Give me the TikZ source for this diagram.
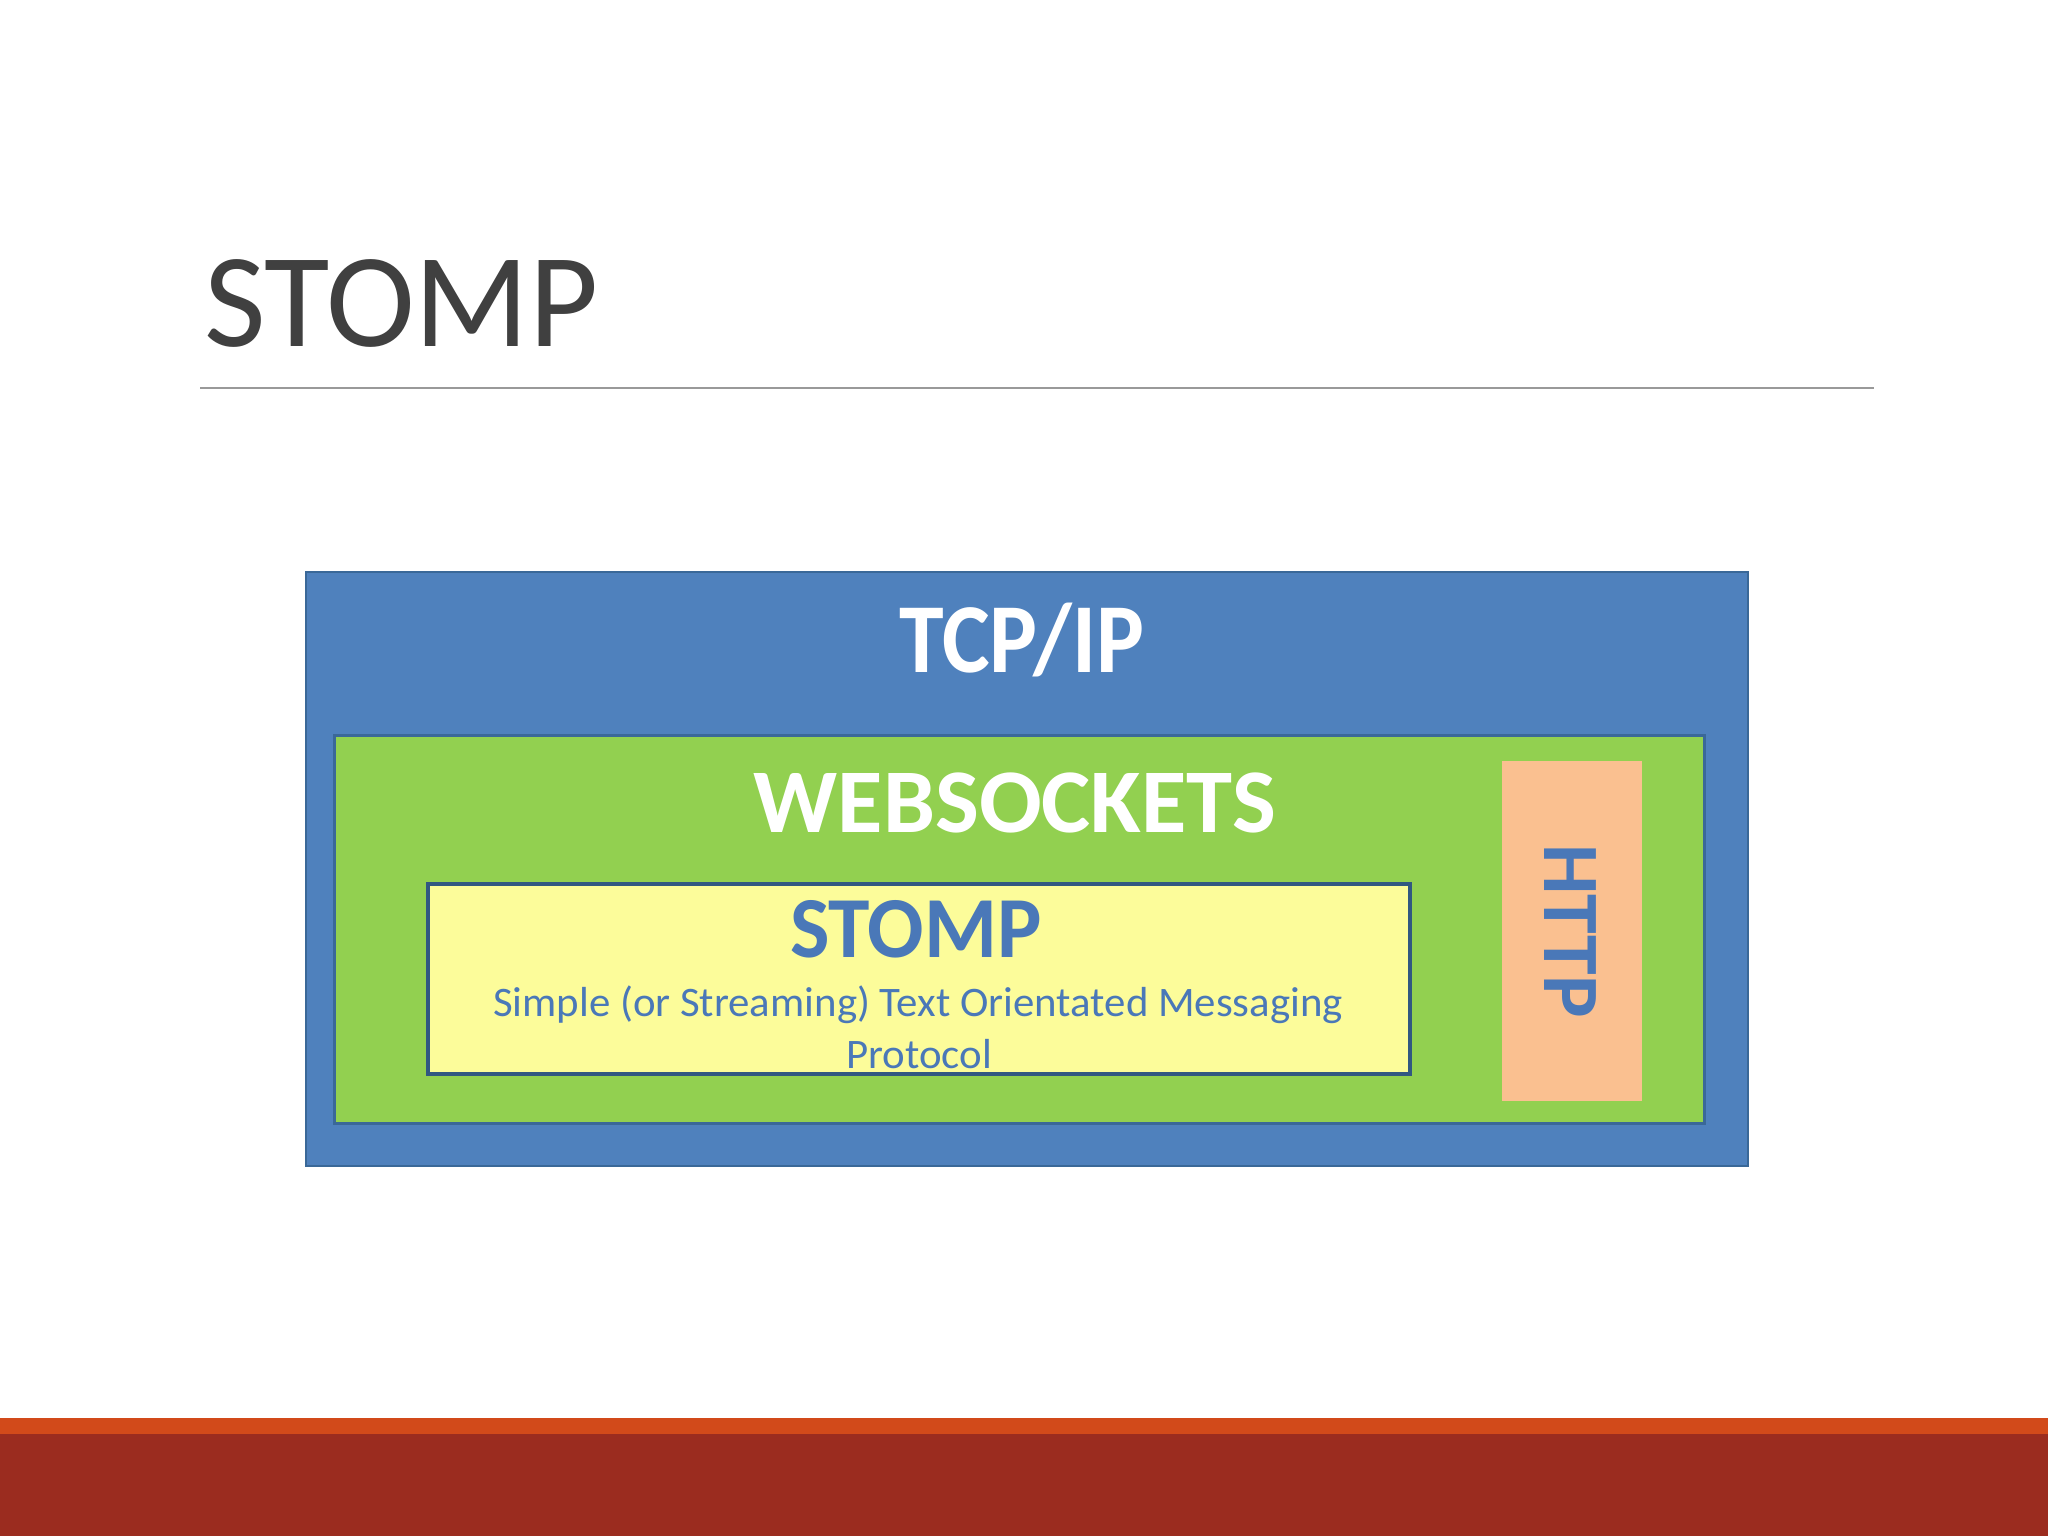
\documentclass[tikz,border=0pt]{standalone}
\usepackage{fontspec}
\setmainfont{Carlito}
\definecolor{tcpblue}{HTML}{4F81BD}
\definecolor{tcpedge}{HTML}{3A6898}
\definecolor{wsgreen}{HTML}{92D050}
\definecolor{stompyellow}{HTML}{FCFC9A}
\definecolor{httporange}{HTML}{FAC090}
\definecolor{txtblue}{HTML}{4A78B8}
\definecolor{titlegray}{HTML}{404040}
\definecolor{barorange}{HTML}{D24A1A}
\definecolor{barred}{HTML}{9B2C1F}
\tikzset{
  layer/.style={draw, inner sep=0pt, outer sep=0pt},
  lbl/.style={inner sep=0pt, outer sep=0pt, anchor=base},
}
\begin{document}
\begin{tikzpicture}[x=1pt,y=-1pt]
\useasboundingbox (0,0) rectangle (2048,1536);
\fill[white] (0,0) rectangle (2048,1536);
% bottom bars
\fill[barorange] (0,1418) rectangle (2048,1434);
\fill[barred] (0,1434) rectangle (2048,1536);
% title
\node[lbl, anchor=base west, text=titlegray, font=\fontsize{134}{160}\selectfont] (title) at (204,346) {STOMP};
\coordinate (ruleL) at (200,388);
\coordinate (ruleR) at (1874,388);
\draw[line width=2pt, color=gray!80] (ruleL) -- (ruleR);
% layers
\node[layer, fill=tcpblue, draw=tcpedge, line width=2.5pt, minimum width=1442pt, minimum height=594pt, anchor=north west] (tcp) at (306,572) {};
\node[layer, fill=wsgreen, draw=tcpedge, line width=3pt, minimum width=1370pt, minimum height=388pt, anchor=north west] (ws) at (334,735) {};
\node[layer, fill=stompyellow, draw=tcpedge!85!black, line width=3.5pt, minimum width=982pt, minimum height=190pt, anchor=north west] (stomp) at (428,884) {};
\node[inner sep=0pt, outer sep=0pt, fill=httporange, minimum width=140pt, minimum height=340pt, anchor=north west] (http) at (1502,761) {};
% labels
\node[lbl, text=white, font=\fontsize{99}{119}\selectfont\bfseries, xscale=0.91] (tcplbl) at (1022,672) {TCP/IP};
\node[lbl, text=white, font=\fontsize{91}{110}\selectfont\bfseries, xscale=1.02] (wslbl) at (1015,832) {WEBSOCKETS};
\node[lbl, text=txtblue, font=\fontsize{87}{104}\selectfont\bfseries, xscale=0.96] (stomplbl) at (916,957) {STOMP};
\node[lbl, text=txtblue, font=\fontsize{42}{52}\selectfont, xscale=1.02] (desc1) at (918,1016) {Simple (or Streaming) Text Orientated Messaging};
\node[lbl, text=txtblue, font=\fontsize{42}{52}\selectfont, xscale=1.02] (desc2) at (919,1068) {Protocol};
\node[inner sep=0pt, outer sep=0pt, text=txtblue, rotate=-90, font=\fontsize{80}{96}\selectfont\bfseries] (httplbl) at (1570,931) {HTTP};
\end{tikzpicture}
\end{document}
